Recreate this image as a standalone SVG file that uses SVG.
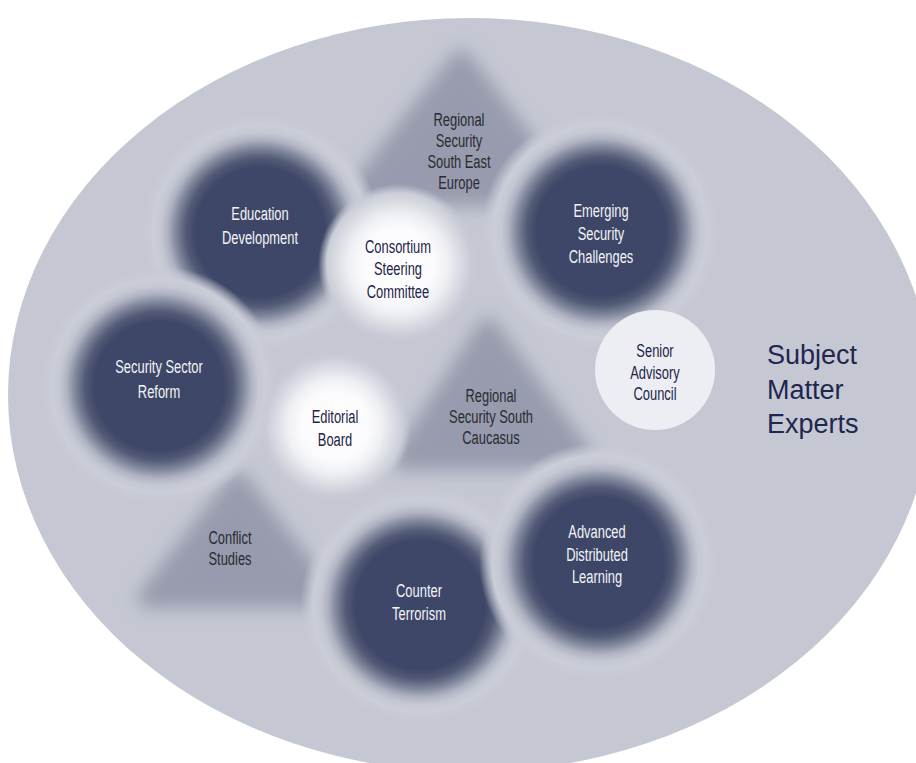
<svg xmlns="http://www.w3.org/2000/svg" width="916" height="763" viewBox="0 0 916 763">
<defs>
<style>
.lbl{font-family:"Liberation Sans",Arial,sans-serif;font-size:19px;text-anchor:middle;}
.lw{fill:#f3f4f8;}
.ln{fill:#1c2448;}
.lk{fill:#2a2b32;}
.big{font-family:"Liberation Sans",Arial,sans-serif;font-size:27px;fill:#1e2750;}
.tri{fill:#979bad;stroke:#979bad;stroke-width:20;stroke-linejoin:round;filter:url(#blur);}
</style>
<radialGradient id="dk">
<stop offset="0" stop-color="#3d4666"/>
<stop offset="0.54" stop-color="#3e4767"/>
<stop offset="0.62" stop-color="#535b77"/>
<stop offset="0.7" stop-color="#81879c"/>
<stop offset="0.77" stop-color="#afb3c2"/>
<stop offset="0.83" stop-color="#c5c8d3"/>
<stop offset="0.89" stop-color="#cbced8"/>
<stop offset="0.95" stop-color="#c8cbd6" stop-opacity="0.5"/>
<stop offset="1" stop-color="#c5c8d3" stop-opacity="0"/>
</radialGradient>
<radialGradient id="wh">
<stop offset="0" stop-color="#ffffff"/>
<stop offset="0.45" stop-color="#fbfbfd"/>
<stop offset="0.62" stop-color="#eff0f4"/>
<stop offset="0.76" stop-color="#dcdee5"/>
<stop offset="0.89" stop-color="#cbced8"/>
<stop offset="1" stop-color="#c5c8d3" stop-opacity="0"/>
</radialGradient>
<filter id="blur" x="-40%" y="-40%" width="180%" height="180%">
<feGaussianBlur stdDeviation="9"/>
</filter>
</defs>
<ellipse cx="470" cy="395" rx="462" ry="377" fill="#c5c8d3"/>

<g id="tri-see">
<polygon class="tri" points="461,60 354,196 566,196"/>
<text class="lbl lk" transform="translate(459 0) scale(0.68 1)"><tspan x="0" y="126">Regional</tspan><tspan x="0" y="147">Security</tspan><tspan x="0" y="168">South East</tspan><tspan x="0" y="189">Europe</tspan></text>
</g>
<g id="tri-sc">
<polygon class="tri" points="488,328 402,460 585,460"/>
<text class="lbl lk" transform="translate(491 0) scale(0.68 1)"><tspan x="0" y="402">Regional</tspan><tspan x="0" y="423">Security South</tspan><tspan x="0" y="444">Caucasus</tspan></text>
</g>
<g id="tri-cs">
<polygon class="tri" points="238,482 148,598 328,598"/>
<text class="lbl lk" transform="translate(230 0) scale(0.68 1)"><tspan x="0" y="544">Conflict</tspan><tspan x="0" y="565">Studies</tspan></text>
</g>

<g id="education">
<circle cx="260" cy="232" r="120" fill="url(#dk)"/>
<text class="lbl lw" transform="translate(260 0) scale(0.68 1)"><tspan x="0" y="220">Education</tspan><tspan x="0" y="244">Development</tspan></text>
</g>
<g id="emerging">
<circle cx="601" cy="231" r="120" fill="url(#dk)"/>
<text class="lbl lw" transform="translate(601 0) scale(0.68 1)"><tspan x="0" y="217">Emerging</tspan><tspan x="0" y="240">Security</tspan><tspan x="0" y="263">Challenges</tspan></text>
</g>
<g id="ssr">
<circle cx="159" cy="386" r="120" fill="url(#dk)"/>
<text class="lbl lw" transform="translate(159 0) scale(0.68 1)"><tspan x="0" y="373">Security Sector</tspan><tspan x="0" y="398">Reform</tspan></text>
</g>
<g id="counter">
<circle cx="420" cy="605" r="120" fill="url(#dk)"/>
<text class="lbl lw" transform="translate(419 0) scale(0.68 1)"><tspan x="0" y="597">Counter</tspan><tspan x="0" y="620">Terrorism</tspan></text>
</g>
<g id="adl">
<circle cx="599" cy="562" r="120" fill="url(#dk)"/>
<text class="lbl lw" transform="translate(597 0) scale(0.68 1)"><tspan x="0" y="538">Advanced</tspan><tspan x="0" y="561">Distributed</tspan><tspan x="0" y="583">Learning</tspan></text>
</g>

<g id="consortium">
<circle cx="398" cy="264" r="80" fill="url(#wh)"/>
<text class="lbl ln" transform="translate(398 0) scale(0.68 1)"><tspan x="0" y="253">Consortium</tspan><tspan x="0" y="275">Steering</tspan><tspan x="0" y="298">Committee</tspan></text>
</g>
<g id="editorial">
<circle cx="335" cy="426" r="76" fill="url(#wh)"/>
<text class="lbl ln" transform="translate(335 0) scale(0.68 1)"><tspan x="0" y="423">Editorial</tspan><tspan x="0" y="446">Board</tspan></text>
</g>
<g id="senior">
<circle cx="655" cy="370" r="60" fill="#eceef3"/>
<text class="lbl ln" transform="translate(655 0) scale(0.68 1)"><tspan x="0" y="357">Senior</tspan><tspan x="0" y="379">Advisory</tspan><tspan x="0" y="400">Council</tspan></text>
</g>
<g id="sme">
<text class="big"><tspan x="767" y="364">Subject</tspan><tspan x="767" y="399">Matter</tspan><tspan x="767" y="433">Experts</tspan></text>
</g>
</svg>
